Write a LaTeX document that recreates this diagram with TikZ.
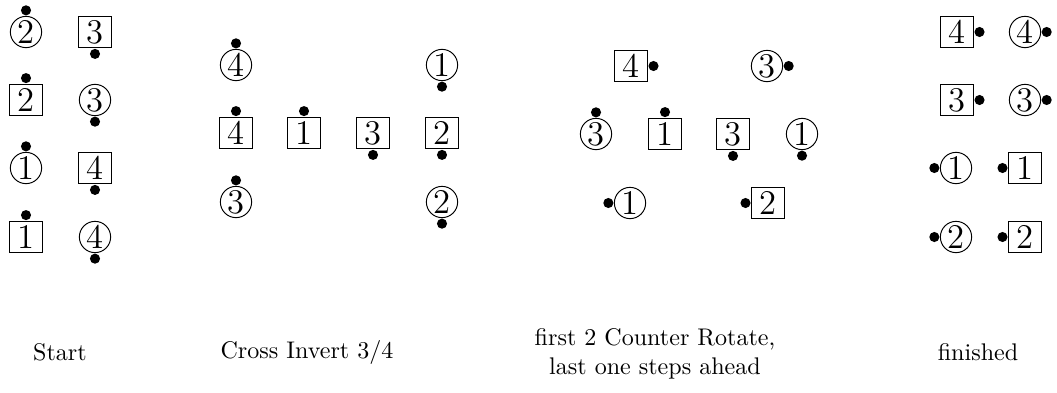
\documentclass[tikz,border=0pt]{standalone}
\begin{document}
\begin{tikzpicture}[x=0.014599cm, y=-0.014599cm,
  cnode/.style={circle, draw, inner sep=0pt, minimum size=13pt, font=\Large},
  bnode/.style={rectangle, draw, inner sep=0pt, minimum width=13.7pt, minimum height=13.2pt, font=\Large},
  dot/.style={circle, fill, inner sep=0pt, minimum size=4.2pt},
  caption/.style={align=center, inner sep=0pt}]
\useasboundingbox (0,0) rectangle (1057,392);
\newcommand{\tok}[6]{%
  \node[#1] (#2) at (#3) {#4};
  \node[dot, anchor=#6] (#2d) at (#2.#5) {};}
% Panel 1: Start
\tok{cnode}{pa1}{26,32}{2}{north}{south}
\tok{bnode}{pa2}{95,32}{3}{south}{north}
\tok{bnode}{pa3}{26,100}{2}{north}{south}
\tok{cnode}{pa4}{95,100}{3}{south}{north}
\tok{cnode}{pa5}{26,168}{1}{north}{south}
\tok{bnode}{pa6}{95,168}{4}{south}{north}
\tok{bnode}{pa7}{26,237}{1}{north}{south}
\tok{cnode}{pa8}{95,237}{4}{south}{north}
% Panel 2: Cross Invert 3/4
\tok{cnode}{pb1}{236,65}{4}{north}{south}
\tok{bnode}{pb2}{236,133}{4}{north}{south}
\tok{cnode}{pb3}{236,202}{3}{north}{south}
\tok{bnode}{pb4}{304,133}{1}{north}{south}
\tok{bnode}{pb5}{373,133}{3}{south}{north}
\tok{cnode}{pb6}{442,65}{1}{south}{north}
\tok{bnode}{pb7}{442,133}{2}{south}{north}
\tok{cnode}{pb8}{442,202}{2}{south}{north}
% Panel 3
\tok{bnode}{pc1}{631,66}{4}{east}{west}
\tok{cnode}{pc2}{767,66}{3}{east}{west}
\tok{cnode}{pc3}{596,134}{3}{north}{south}
\tok{bnode}{pc4}{665,134}{1}{north}{south}
\tok{bnode}{pc5}{733,134}{3}{south}{north}
\tok{cnode}{pc6}{802,134}{1}{south}{north}
\tok{cnode}{pc7}{630,203}{1}{west}{east}
\tok{bnode}{pc8}{768,203}{2}{west}{east}
% Panel 4: finished
\tok{bnode}{pd1}{957,32}{4}{east}{west}
\tok{cnode}{pd2}{1025,32}{4}{east}{west}
\tok{bnode}{pd3}{957,100}{3}{east}{west}
\tok{cnode}{pd4}{1025,100}{3}{east}{west}
\tok{cnode}{pd5}{956,168}{1}{west}{east}
\tok{bnode}{pd6}{1025,168}{1}{west}{east}
\tok{cnode}{pd7}{956,237}{2}{west}{east}
\tok{bnode}{pd8}{1025,237}{2}{west}{east}
% captions
\node[caption] (la) at (60,352) {Start};
\node[caption] (lb) at (307,352) {Cross Invert 3/4};
\node[caption] (lc) at (655,354) {first 2 Counter Rotate,\\ last one steps ahead};
\node[caption] (ld) at (978,352) {finished};
\end{tikzpicture}
\end{document}
